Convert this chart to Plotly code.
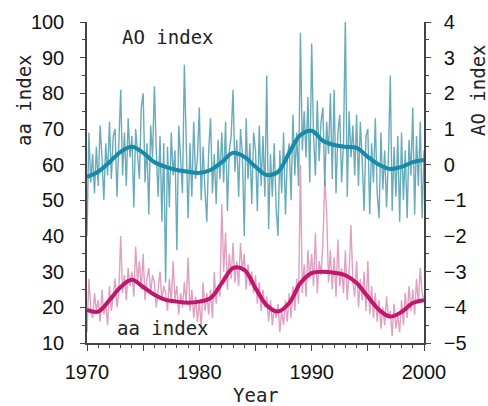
import plotly.graph_objects as go

# ---- data ----
years_knots = list(range(1970, 2001))
ao_smooth = [-0.34, -0.2, 0.07, 0.36, 0.5, 0.33, 0.07, -0.06, -0.15, -0.2,
             -0.23, -0.15, 0.07, 0.33, 0.22, -0.06, -0.29, -0.2, 0.33, 0.83,
             0.95, 0.67, 0.55, 0.5, 0.47, 0.22, 0.0, -0.12, -0.06, 0.07, 0.13]
aa_smooth = [19.3, 18.8, 22.0, 25.7, 27.7, 25.7, 23.5, 22.1, 21.6, 21.3,
             21.6, 22.6, 26.8, 31.0, 30.5, 25.4, 20.6, 18.8, 21.2, 26.8,
             29.6, 30.0, 29.7, 29.0, 26.8, 23.0, 19.3, 17.4, 18.7, 21.2, 22.0]

# bimonthly values, 6 per year, 1970.0 ... 2000.0
ao_values = [
    -2.0, 0.9, -0.5, 0.3, -0.8, 0.5,
    -0.6, 1.1, 0.2, -1.0, 0.6, -0.3,
    1.2, -0.4, 0.8, 1.0, -0.9, 0.4,
    2.1, -0.3, 0.9, -0.6, 1.3, 0.2,
    0.8, -1.2, 1.0, 0.3, -0.4, 1.6,
    2.0, -0.5, 0.6, -1.4, 1.1, 0.2,
    2.2, 0.4, -0.9, 0.8, -1.6, 0.6,
    -3.3, 0.5, -1.2, 0.9, -0.3, 0.4,
    -2.4, 1.1, 0.0, -0.8, 2.8, 0.3,
    -1.5, 0.6, -0.9, 1.2, -0.4, 0.2,
    1.6, -1.0, 0.5, -0.7, -1.6, 0.4,
    1.3, -0.8, 0.3, -1.1, 0.7, -0.4,
    0.9, -0.5, 1.2, -1.3, 0.4, 0.8,
    2.1, -0.2, 0.7, -0.9, 1.0, 0.3,
    -2.0, 1.3, -0.4, 0.6, -1.1, 0.9,
    0.4, -1.3, 1.1, -0.6, 0.8, -0.9,
    2.5, -1.8, 0.3, -0.9, 0.6, -1.2,
    -2.0, 0.4, -0.8, 0.9, -1.4, 0.2,
    0.6, -1.0, 1.4, -0.3, 0.9, -0.6,
    3.7, 0.4, 1.5, 0.2, 1.9, -0.5,
    3.4, 0.8, -0.3, 1.8, 0.1, 1.2,
    1.6, -0.6, 1.2, 0.3, 2.0, -0.4,
    2.1, -0.8, 0.9, 1.4, -0.5, 0.6,
    4.1, -0.9, 1.5, 0.2, 1.1, -0.3,
    1.4, -0.6, 1.2, 0.1, -1.3, 0.8,
    1.0, -1.4, 0.6, -0.5, 1.3, -0.8,
    -1.5, 0.9, -0.7, 0.4, -1.2, 0.2,
    2.5, -1.3, 0.5, -0.9, 0.8, -1.6,
    0.9, -1.0, 0.4, -1.5, 0.7, -0.3,
    1.6, -1.4, 0.8, -0.6, 1.2, -1.5,
    0.4,
]
aa_values = [
    13, 28, 20, 17, 24, 19,
    22, 16, 25, 18, 21, 15,
    26, 19, 23, 28, 20, 24,
    40, 24, 29, 22, 31, 26,
    30, 23, 37, 27, 33, 25,
    35, 22, 28, 31, 24, 29,
    27, 20, 25, 30, 22, 26,
    24, 19, 28, 21, 33, 22,
    26, 18, 24, 20, 27, 21,
    34, 19, 25, 17, 23, 16,
    22, 14, 27, 19, 24, 18,
    25, 17, 30, 21, 26, 23,
    49, 30, 41, 25, 35, 28,
    38, 27, 33, 26, 38, 30,
    35, 25, 32, 26, 30, 24,
    29, 21, 27, 19, 25, 20,
    23, 16, 22, 15, 20, 17,
    21, 13, 19, 15, 22, 16,
    24, 17, 26, 19, 28, 21,
    60, 24, 32, 23, 36, 28,
    35, 26, 41, 24, 33, 29,
    38, 56, 47, 27, 36, 25,
    34, 23, 39, 26, 31, 24,
    36, 22, 30, 43, 27, 23,
    33, 20, 28, 22, 30, 19,
    33, 18, 26, 17, 24, 16,
    22, 14, 20, 15, 23, 17,
    19, 12, 21, 14, 18, 13,
    22, 15, 24, 17, 26, 19,
    25, 18, 28, 21, 31, 24,
    22,
]
t = [1970 + i / 6 for i in range(len(ao_values))]

x_tickvals = [1970, 1975, 1980, 1985, 1990, 1995, 2000]
x_ticktext = ["1970", "", "1980", "", "1990", "", "2000"]

# ---- figure ----
tick_font = dict(family="Liberation Sans, Arial, sans-serif", size=20, color="#111")
gothic = "DejaVu Sans Mono, Liberation Mono, monospace"

fig = go.Figure()
fig.add_trace(go.Scatter(x=t, y=ao_values, yaxis="y2", mode="lines",
                         line=dict(color="rgba(40,135,158,0.7)", width=1.4),
                         hoverinfo="skip", showlegend=False))
fig.add_trace(go.Scatter(x=t, y=aa_values, mode="lines",
                         line=dict(color="rgba(205,95,152,0.6)", width=1.4),
                         hoverinfo="skip", showlegend=False))
fig.add_trace(go.Scatter(x=years_knots, y=ao_smooth, yaxis="y2", mode="lines",
                         line=dict(color="#168aa8", width=4, shape="spline", smoothing=1.0),
                         showlegend=False))
fig.add_trace(go.Scatter(x=years_knots, y=aa_smooth, mode="lines",
                         line=dict(color="#c0166c", width=4, shape="spline", smoothing=1.0),
                         showlegend=False))

axis_common = dict(showgrid=False, zeroline=False, showline=True, automargin=False,
                   linecolor="#444", linewidth=1.5, ticks="outside",
                   tickcolor="#444", tickfont=tick_font)

title_font = dict(family=gothic, size=19, color="#222")

fig.update_layout(
    width=488, height=406,
    margin=dict(l=87, r=64, t=22, b=63),
    paper_bgcolor="white", plot_bgcolor="white",
    xaxis=dict(range=[1970, 2000], tickvals=x_tickvals, ticktext=x_ticktext,
               ticklen=6, ticklabelstandoff=4,
               minor=dict(dtick=1, tick0=1970, ticklen=3, ticks="outside", tickcolor="#444"),
               **axis_common),
    yaxis=dict(range=[10, 100], dtick=10, tick0=10, ticklen=5, ticklabelstandoff=12,
               minor=dict(dtick=5, tick0=10, ticklen=3, ticks="outside", tickcolor="#444"),
               **axis_common),
    yaxis2=dict(range=[-5, 4], dtick=1, tick0=-5, ticklen=5, ticklabelstandoff=9,
                overlaying="y", side="right",
                minor=dict(dtick=0.5, tick0=-5, ticklen=3, ticks="outside", tickcolor="#444"),
                **axis_common),
    annotations=[
        dict(text="AO index", xref="paper", yref="paper", x=0.098, y=0.953,
             xanchor="left", yanchor="middle", showarrow=False, font=title_font),
        dict(text="aa index", xref="paper", yref="paper", x=0.083, y=0.047,
             xanchor="left", yanchor="middle", showarrow=False, font=title_font),
        dict(text="aa index", xref="paper", yref="paper", x=-0.187, y=0.757,
             xanchor="center", yanchor="middle", textangle=-90, showarrow=False, font=title_font),
        dict(text="AO index", xref="paper", yref="paper", x=1.16, y=0.788,
             xanchor="center", yanchor="middle", textangle=-90, showarrow=False, font=title_font),
        dict(text="Year", xref="paper", yref="paper", x=0.5, y=-0.162,
             xanchor="center", yanchor="middle", showarrow=False, font=title_font),
    ],
)

fig.write_html("out.html", config={"displayModeBar": False},
               post_script="document.body.style.margin='0';document.body.style.padding='0';")
